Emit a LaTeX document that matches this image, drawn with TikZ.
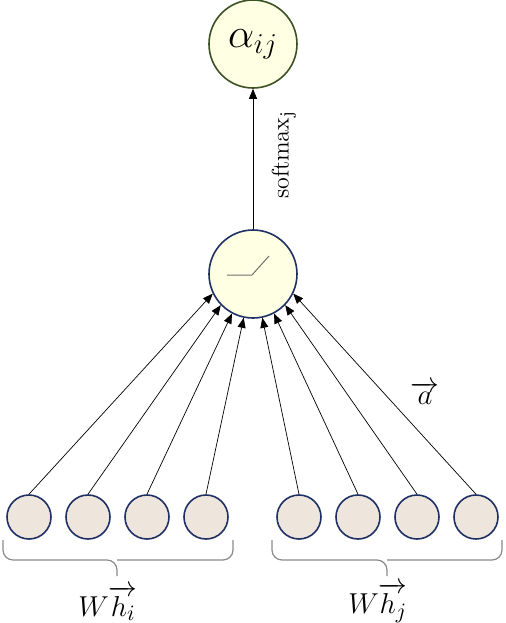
\documentclass[tikz,border=0pt]{standalone}
\usepackage{amsmath}
\usetikzlibrary{arrows.meta}
\definecolor{navy}{HTML}{1F3064}
\definecolor{darkgreen}{HTML}{3B5323}
\definecolor{cream}{HTML}{FFFFE3}
\definecolor{beige}{HTML}{EEE6DC}
\definecolor{bracegray}{HTML}{8A8A8A}
\definecolor{rampgray}{HTML}{707070}

\begin{document}
\begin{tikzpicture}[x=0.5pt,y=-0.5pt,
 font=\fontsize{15}{18}\selectfont,
 outnode/.style={circle,draw=darkgreen,fill=cream,line width=0.8pt,minimum size=44pt,inner sep=0pt},
 attnode/.style={circle,draw=navy,fill=cream,line width=0.8pt,minimum size=44pt,inner sep=0pt},
 feat/.style={circle,draw=navy,fill=beige,line width=0.8pt,minimum size=22pt,inner sep=0pt},
 arr/.style={-{Triangle[length=5pt,width=4pt]},line width=0.35pt},
 grpbrace/.style={draw=bracegray,line width=0.6pt,rounded corners=5pt},
 grplabel/.style={inner sep=1pt}
]
\useasboundingbox (0,0) rectangle (505,623);

\node[outnode,font=\fontsize{20}{24}\selectfont] (alpha) at (253,44) {$\alpha_{ij}$};
\node[attnode] (act) at (253,274) {};
\draw[rampgray,line width=0.5pt] (227,275) -- (252,275) -- (269,256);
\draw[arr] (act) -- (alpha);
\node[rotate=90,font=\fontsize{13}{15}\selectfont] (smax) at (284,155) {$\mathrm{softmax}_{\mathrm{j}}$};

\foreach \i/\x in {1/29,2/88,3/147,4/206} \node[feat] (hi\i) at (\x,517) {};
\foreach \i/\x in {1/299,2/358,3/417,4/476} \node[feat] (hj\i) at (\x,517) {};
\foreach \n/\a in {hi1/206,hi2/224,hi3/242,hi4/258,hj1/282,hj2/298,hj3/316,hj4/334}
  \draw[arr] (\n.north) -- (act.\a);

\node (avec) at (425,393) {$\overrightarrow{a}$};

% group braces
\draw[grpbrace] (3,540) |- (117,560) -- (117,576);
\draw[grpbrace] (233,540) |- (117,560);
\draw[grpbrace] (272,540) |- (387,560) -- (387,576);
\draw[grpbrace] (502,540) |- (387,560);
\node[grplabel] (whi) at (108,603) {$W\overrightarrow{h_i}$};
\node[grplabel] (whj) at (378,603) {$W\overrightarrow{h_j}$};
\end{tikzpicture}
\end{document}
